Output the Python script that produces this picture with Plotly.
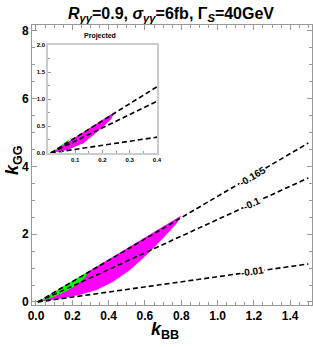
import math
import plotly.graph_objects as go

# ---------------- data ----------------
# contour lines (k_BB, k_GG end points)
line_x = [0.01, 1.5]
line_165_y = [0.0, 4.69]
line_100_y = [0.0, 3.66]
line_010_y = [0.0, 1.12]
line_labels = ["-0.165", "-0.1", "-0.01"]
label_x = 1.19

# allowed regions, main panel
mag_x = [0.01, 0.80, 0.775, 0.70, 0.61, 0.518, 0.426, 0.334, 0.243, 0.15, 0.06, 0.01]
mag_y = [0.0, 2.55, 2.32, 1.88, 1.39, 0.94, 0.60, 0.35, 0.21, 0.11, 0.04, 0.0]
grn_x = [0.01, 0.295, 0.28, 0.26, 0.20, 0.15, 0.08, 0.01]
grn_y = [0.0, 0.93, 0.80, 0.66, 0.42, 0.27, 0.12, 0.0]

# allowed regions, projected (inset)
pmag_x = [0.01, 0.247, 0.229, 0.19, 0.13, 0.07, 0.01]
pmag_y = [0.0, 0.77, 0.61, 0.43, 0.18, 0.055, 0.0]
pgrn_x = [0.01, 0.088, 0.07, 0.04, 0.01]
pgrn_y = [0.0, 0.29, 0.20, 0.08, 0.0]

W, H = 313, 347
FONT = "Liberation Sans"

fig = go.Figure()

def add_regions(xa, ya, mx, my, gx, gy):
    fig.add_trace(go.Scatter(x=mx, y=my, fill="toself", mode="lines",
                             line=dict(width=0), fillcolor="#FF00FF",
                             xaxis=xa, yaxis=ya, hoverinfo="skip"))
    fig.add_trace(go.Scatter(x=gx, y=gy, fill="toself", mode="lines",
                             line=dict(width=0), fillcolor="#00FF00",
                             xaxis=xa, yaxis=ya, hoverinfo="skip"))

def add_lines(xa, ya, width):
    for ys in (line_165_y, line_100_y, line_010_y):
        fig.add_trace(go.Scatter(x=line_x, y=ys, mode="lines",
                                 line=dict(color="black", width=width, dash="5px,3px"),
                                 xaxis=xa, yaxis=ya, hoverinfo="skip"))

add_regions("x", "y", mag_x, mag_y, grn_x, grn_y)
add_lines("x", "y", 1.6)
add_regions("x2", "y2", pmag_x, pmag_y, pgrn_x, pgrn_y)
add_lines("x2", "y2", 1.6)

# plot geometry (px)
L, R, T, B = 32, 1, 25, 42
xr = [-0.022, 1.52]
yr = [-0.09, 8.17]
pw, ph = W - L - R, H - T - B

# labels on lines
for ys, txt in zip((line_165_y, line_100_y, line_010_y), line_labels):
    slope = (ys[1] - ys[0]) / (line_x[1] - line_x[0])
    yv = ys[0] + slope * (label_x - line_x[0])
    ang = math.degrees(math.atan(slope * (ph / (yr[1] - yr[0])) / (pw / (xr[1] - xr[0]))))
    fig.add_annotation(x=label_x, y=yv, xref="x", yref="y", text="<b>%s</b>" % txt,
                       showarrow=False, textangle=-ang, bgcolor="white",
                       xanchor="center", yanchor="middle",
                       font=dict(family=FONT, size=10, color="black"), borderpad=0)

axis_common = dict(showline=True, linecolor="#999999", linewidth=1, mirror="ticks",
                   ticks="inside", tickcolor="#999999", showgrid=False, zeroline=False,
                   automargin=False,
                   tickfont=dict(family=FONT, size=12, color="black", weight="bold"))

fig.update_layout(
    width=W, height=H, margin=dict(l=L, r=R, t=T, b=B, autoexpand=False),
    plot_bgcolor="white", paper_bgcolor="white", showlegend=False,
    xaxis=dict(range=xr, dtick=0.2, tick0=0, tickformat=".1f", ticklen=5,
               minor=dict(dtick=0.05, ticks="inside", ticklen=3, tickcolor="#999999"),
               **axis_common),
    yaxis=dict(range=yr, dtick=2, tick0=0, ticklen=5,
               minor=dict(dtick=0.5, ticks="inside", ticklen=3, tickcolor="#999999"),
               **axis_common),
    xaxis2=dict(domain=[(48 - L) / pw, (157 - L) / pw], anchor="y2", range=[0, 0.4],
                tickvals=[0.1, 0.2, 0.3, 0.4], ticktext=["0.1", "0.2", "0.3", "0.4"],
                showline=True, linecolor="#cccccc", linewidth=1.5, mirror=True,
                ticks="inside", ticklen=3, tickcolor="#999999", showgrid=False, zeroline=False,
                automargin=False,
                minor=dict(dtick=0.05, ticks="inside", ticklen=2, tickcolor="#999999"),
                tickfont=dict(family=FONT, size=6, color="black", weight="bold")),
    yaxis2=dict(domain=[(H - B - 153) / ph, (H - B - 45) / ph], anchor="x2", range=[0, 2.0],
                dtick=0.5, tickformat=".1f",
                showline=True, linecolor="#cccccc", linewidth=1.5, mirror=True,
                ticks="inside", ticklen=3, tickcolor="#999999", showgrid=False, zeroline=False,
                automargin=False,
                minor=dict(dtick=0.25, ticks="inside", ticklen=2, tickcolor="#999999"),
                tickfont=dict(family=FONT, size=6, color="black", weight="bold")),
    title=dict(text="<b><i>R</i><sub><i>γγ</i></sub>=0.9, <i>σ</i><sub><i>γγ</i></sub>=6fb, Γ<sub><i>S</i></sub>=40GeV</b>",
               x=171 / W, xanchor="center", xref="container", y=1 - 13 / H, yanchor="middle",
               yref="container", font=dict(family=FONT, size=16, color="black")),
)

fig.add_annotation(x=(100 - L) / pw, y=(H - B - 36) / ph, xref="paper", yref="paper",
                   xanchor="center", yanchor="middle",
                   text="<b>Projected</b>", showarrow=False,
                   font=dict(family=FONT, size=7, color="black"))
# axis titles
fig.add_annotation(x=(165 - L) / pw, y=(H - B - 330) / ph, xref="paper", yref="paper",
                   xanchor="center", yanchor="middle",
                   text="<b><i>k</i><sub>BB</sub></b>", showarrow=False,
                   font=dict(family=FONT, size=18, color="black"))
fig.add_annotation(x=(13 - L) / pw, y=(H - B - 160) / ph, xref="paper", yref="paper",
                   xanchor="center", yanchor="middle",
                   text="<b><i>k</i><sub>GG</sub></b>", showarrow=False, textangle=-90,
                   font=dict(family=FONT, size=18, color="black"))

fig.write_html("out.html", config={"displayModeBar": False},
               post_script="document.body.style.margin='0';document.body.style.overflow='hidden';")
